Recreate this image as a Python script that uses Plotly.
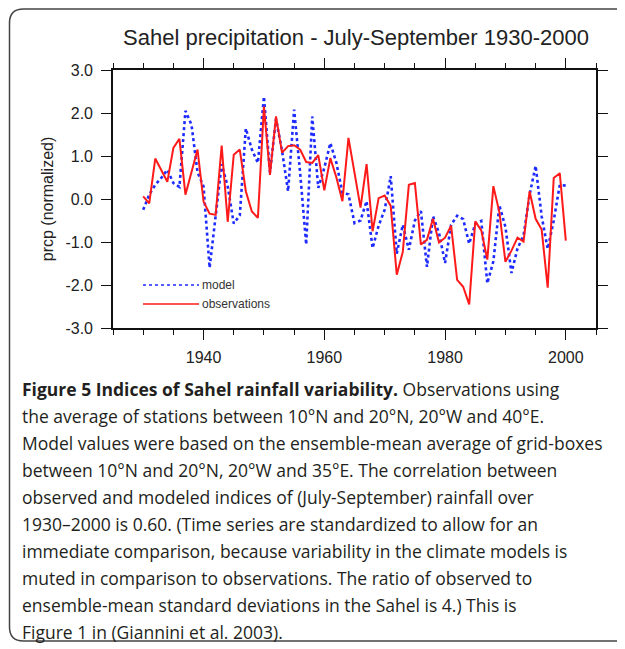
import plotly.graph_objects as go

years = list(range(1930, 2001))

observations = [
    0.06, -0.10, 0.94, 0.67, 0.40, 1.19, 1.40, 0.10, 0.60, 1.15,
    -0.06, -0.34, -0.37, 1.24, -0.53, 1.03, 1.15, 0.18, -0.29, -0.44,
    2.15, 0.56, 1.92, 1.08, 1.23, 1.25, 1.15, 0.86, 0.84, 1.02,
    0.20, 0.95, 0.50, -0.05, 1.42, 0.62, -0.20, 0.81, -0.75, 0.02,
    0.08, -0.16, -1.76, -1.23, 0.33, 0.37, -1.06, -0.95, -0.46, -1.01,
    -0.90, -0.62, -1.88, -2.04, -2.45, -0.52, -0.73, -1.41, 0.30, -0.31,
    -1.46, -1.20, -0.90, -0.99, 0.18, -0.46, -0.71, -2.06, 0.49, 0.60,
    -0.97,
]

model = [
    -0.25, 0.10, 0.33, 0.49, 0.68, 0.37, 0.28, 2.05, 1.73, 0.62,
    0.29, -1.60, -0.40, 0.81, 0.29, -0.57, -0.38, 1.64, 1.15, 0.84,
    2.38, 0.62, 1.86, 1.12, 0.18, 2.08, 0.60, -1.06, 1.92, 0.26,
    0.72, 1.30, 0.84, 0.14, 0.11, -0.56, -0.50, -0.05, -1.14, -0.62,
    -0.25, 0.53, -1.27, -0.60, -1.18, -0.50, -0.28, -1.58, -0.40, -0.79,
    -1.49, -0.60, -0.39, -0.47, -1.04, -0.58, -0.51, -1.96, -1.45, -0.15,
    -0.65, -1.72, -1.15, -0.85, 0.10, 0.77, -0.40, -1.16, -0.50, 0.33,
    0.31,
]

x_major_ticks = [1940, 1960, 1980, 2000]
x_major_labels = ["1940", "1960", "1980", "2000"]
y_ticks = [3, 2, 1, 0, -1, -2, -3]
y_labels = ["3.0", "2.0", "1.0", "0.0", "-1.0", "-2.0", "-3.0"]

title_text = "Sahel precipitation - July-September 1930-2000"
y_title = "prcp (normalized)"
legend_names = ["model", "observations"]

caption_lines = [
    "<b>Figure 5 Indices of Sahel rainfall variability.</b> Observations using",
    "the average of stations between 10°N and 20°N, 20°W and 40°E.",
    "Model values were based on the ensemble-mean average of grid-boxes",
    "between 10°N and 20°N, 20°W and 35°E. The correlation between",
    "observed and modeled indices of (July-September) rainfall over",
    "1930–2000 is 0.60. (Time series are standardized to allow for an",
    "immediate comparison, because variability in the climate models is",
    "muted in comparison to observations. The ratio of observed to",
    "ensemble-mean standard deviations in the Sahel is 4.) This is",
    "Figure 1 in (Giannini et al. 2003).",
]

# The page has an 8px body margin: the figure is sized and laid out so
# that page pixel coordinates line up with the reference image.
OFF = 8
W, H = 625 - OFF, 649 - OFF
PLOT_L, PLOT_R, PLOT_T, PLOT_B = 113, 596, 70, 328   # page pixels
L, R, T, B = PLOT_L - OFF, W - (PLOT_R - OFF), PLOT_T - OFF, H - (PLOT_B - OFF)
PW, PH = W - L - R, H - T - B


def px(xp):
    return (xp - OFF - L) / PW


def py(yp):
    return (H - B - (yp - OFF)) / PH


BLUE = "#1e2bff"
RED = "#ff1a1a"
CHART_FONT = "Liberation Sans, Arial, sans-serif"

fig = go.Figure()
fig.add_trace(go.Scatter(
    x=years, y=model, mode="lines", name=legend_names[0],
    line=dict(color=BLUE, width=2.6, dash="dot"), showlegend=False,
))
fig.add_trace(go.Scatter(
    x=years, y=observations, mode="lines", name=legend_names[1],
    line=dict(color=RED, width=2.0), showlegend=False,
))

axis_common = dict(
    showline=True, linecolor="#111", linewidth=1.6, mirror="allticks",
    ticks="outside", tickcolor="#111", tickwidth=1.4, ticklen=10,
    showgrid=False, zeroline=False,
    tickfont=dict(family=CHART_FONT, size=16, color="#222"),
)

fig.update_xaxes(
    range=[1925, 2005], tickvals=x_major_ticks, ticktext=x_major_labels,
    minor=dict(dtick=5, tick0=1925, ticks="outside", ticklen=5,
               tickcolor="#111", tickwidth=1.2),
    ticklabelstandoff=4,
    **axis_common,
)
fig.update_yaxes(
    range=[-3, 3], tickvals=y_ticks, ticktext=y_labels,
    ticklabelstandoff=5,
    title=dict(text=y_title, standoff=8,
               font=dict(family=CHART_FONT, size=16, color="#222")),
    **axis_common,
)

# manual legend
legend_rows = [(285, BLUE, "dot", 1.6), (304, RED, "solid", 1.4)]
for (yy, col, dash, lw), name in zip(legend_rows, legend_names):
    fig.add_shape(type="line", xref="paper", yref="paper",
                  x0=px(143), x1=px(199), y0=py(yy), y1=py(yy),
                  line=dict(color=col, width=lw, dash=dash))
    fig.add_annotation(xref="paper", yref="paper", x=px(200), y=py(yy),
                       text=name, showarrow=False, xanchor="left",
                       yanchor="middle",
                       font=dict(family=CHART_FONT, size=12, color="#333"))

# caption
for i, line in enumerate(caption_lines):
    fig.add_annotation(xref="paper", yref="paper", x=px(20),
                       y=py(389 + 27.0 * i), text=line, showarrow=False,
                       xanchor="left", yanchor="middle", align="left",
                       font=dict(family="Open Sans, sans-serif", size=17.5,
                                 color="#231f20"))

# rounded border around the figure
x0, x1, y0, y1, r = px(9.5), px(640), py(9), py(641), 14
rx, ry = r / PW, r / PH
path = (f"M {x0 + rx} {y0} L {x1} {y0} M {x1} {y1} L {x0 + rx} {y1} "
        f"Q {x0} {y1} {x0} {y1 + ry} L {x0} {y0 - ry} Q {x0} {y0} {x0 + rx} {y0}")
fig.add_shape(type="path", xref="paper", yref="paper", path=path,
              line=dict(color="#444", width=1.5))

fig.update_layout(
    width=W, height=H,
    margin=dict(l=L, r=R, t=T, b=B),
    paper_bgcolor="white", plot_bgcolor="white",
    title=dict(text=title_text, x=(356 - OFF) / W, xref="container",
               xanchor="center", y=1 - (37 - OFF) / H, yref="container",
               yanchor="middle",
               font=dict(family=CHART_FONT, size=22, color="#222")),
)

fig.write_html("out.html")
